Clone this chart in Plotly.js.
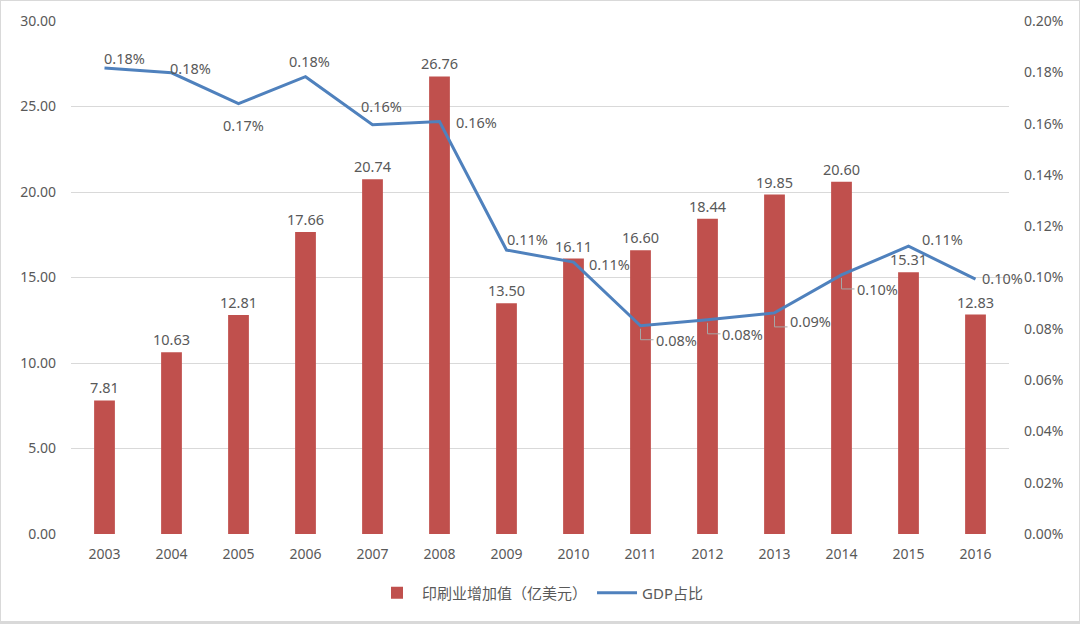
<!DOCTYPE html>
<html><head><meta charset="utf-8">
<script src="https://cdn.plot.ly/plotly-3.0.1.min.js"></script>
<style>
html,body{margin:0;padding:0;background:#fff;}
#chart{width:1078px;height:620px;border:1px solid #d9d9d9;border-bottom:3px solid #d9d9d9;}
</style></head>
<body><div id="chart"></div>
<script>
const years = ['2003','2004','2005','2006','2007','2008','2009','2010','2011','2012','2013','2014','2015','2016'];
const printValue = [7.81,10.63,12.81,17.66,20.74,26.76,13.50,16.11,16.60,18.44,19.85,20.60,15.31,12.83];
const gdpShare = [0.1817,0.1798,0.1678,0.1783,0.1596,0.1608,0.1107,0.1060,0.0812,0.0835,0.0862,0.1010,0.1122,0.0994];
const barName = '印刷业增加值（亿美元）';
const lineName = 'GDP占比';

// label offsets (px) of the line data labels, Excel-like placement
const labelDx = [20,19,5,4,9,37,21,36,36,35,36,36,34,27];
const labelDy = [-10,-5,21,-16,-19,0,-11,2,14,14,8,14,-7,-1];
const leaderIdx = [8,9,10,11];

const fam = '"Noto Sans","Noto Sans CJK SC",sans-serif';
const grey = '#595959';

const traces = [
  {type:'bar', x:years, y:printValue, name:barName, marker:{color:'#C0504D'},
   width:0.31, text:printValue.map(v=>v.toFixed(2)), textposition:'outside', constraintext:'none',
   textfont:{family:fam,size:14.5,color:grey}, cliponaxis:false},
  {type:'scatter', mode:'lines', x:years, y:gdpShare, yaxis:'y2', name:lineName,
   line:{color:'#4F81BD', width:3}, cliponaxis:false}
];

const annotations = years.map((yr,i)=>({
  x:i, y:gdpShare[i], xref:'x', yref:'y2', text:gdpShare[i].toFixed(2)+'%',
  showarrow:false, xshift:labelDx[i], yshift:-labelDy[i],
  font:{family:fam,size:14.5,color:grey}
}));

const shapes = leaderIdx.map(i=>({
  type:'path', xref:'x', yref:'y2', xsizemode:'pixel', ysizemode:'pixel',
  xanchor:i, yanchor:gdpShare[i],
  path:'M 0,-3 L 0,-14 L 13,-14', line:{color:'#a6a6a6', width:1}
}));

const layout = {
  width:1078, height:620,
  margin:{l:70, r:70, t:20, b:85},
  paper_bgcolor:'#fff', plot_bgcolor:'#fff',
  font:{family:fam,size:14,color:grey},
  showlegend:true,
  legend:{orientation:'h', x:0.5, xanchor:'center', y:-0.115, yanchor:'middle', font:{family:fam,size:15,color:grey}, itemwidth:40},
  xaxis:{type:'category', range:[-0.5,13.5], automargin:false, showgrid:false, showline:false, zeroline:false, ticks:'', ticklabelstandoff:10, tickfont:{size:14,color:grey}},
  yaxis:{range:[0,30], dtick:5, tickformat:'.2f', automargin:false, gridcolor:'#d9d9d9', gridwidth:1, zeroline:false, showline:false, ticks:'', ticklabelstandoff:14, tickfont:{size:14,color:grey}},
  yaxis2:{overlaying:'y', side:'right', range:[0,0.2], dtick:0.02, tickformat:'.2f', ticksuffix:'%', automargin:false, showgrid:false, zeroline:false, showline:false, ticks:'', ticklabelstandoff:14, tickfont:{size:14,color:grey}},
  annotations:annotations,
  shapes:shapes
};
Plotly.newPlot('chart', traces, layout, {displayModeBar:false, staticPlot:true});
</script></body></html>
